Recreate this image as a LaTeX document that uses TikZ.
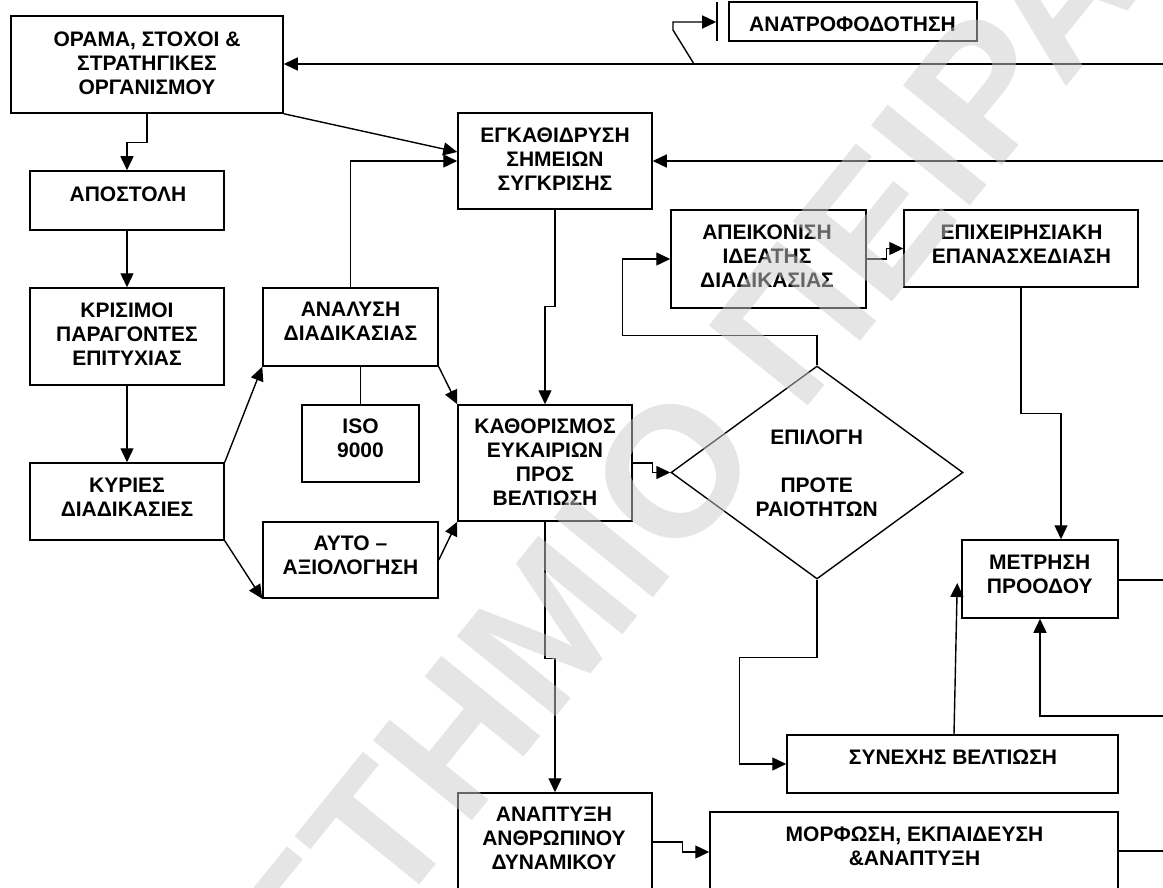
\documentclass[tikz,border=0pt]{standalone}
\usepackage{fontspec}
\setmainfont{Liberation Sans}
\usetikzlibrary{arrows.meta,shapes.geometric}
\begin{document}
\begin{tikzpicture}[x=1pt,y=-1pt,
  box/.style={draw,line width=1.5pt,inner sep=0pt,rectangle},
  txt/.style={align=center,inner sep=0pt,font=\bfseries\fontsize{21}{24}\selectfont},
  link/.style={line width=1.4pt},
  arr/.style={line width=1.4pt,-{Triangle[length=14pt,width=13pt]}},
  wm/.style={inner sep=0pt,rotate=51,text=black!20,text opacity=0.5,
    font=\bfseries\fontsize{185}{185}\selectfont}]
\useasboundingbox (0,0) rectangle (1163,888);
\clip (0,0) rectangle (1163,888);

% boxes
\node[box,minimum width=272pt,minimum height=97pt] (orama) at (147,64.5) {};
\node[box,minimum width=194pt,minimum height=59pt] (apostoli) at (127,200.5) {};
\node[box,minimum width=194pt,minimum height=97pt] (krisimoi) at (127,336.5) {};
\node[box,minimum width=194pt,minimum height=77pt] (kyries) at (127,501.5) {};
\node[box,minimum width=175pt,minimum height=78pt] (analysi) at (350.5,327) {};
\node[box,minimum width=117pt,minimum height=77pt] (iso) at (360.5,443.5) {};
\node[box,minimum width=175pt,minimum height=76pt] (afto) at (350.5,560) {};
\node[box,minimum width=174pt,minimum height=116pt] (kath) at (545,463) {};
\node[box,minimum width=194pt,minimum height=96pt] (egkath) at (555,161) {};
\node[box,minimum width=195pt,minimum height=98pt] (apeik) at (768.5,259) {};
\node[box,minimum width=234pt,minimum height=77pt] (epix) at (1021,248.5) {};
\node[draw,line width=1.4pt,diamond,inner sep=0pt,minimum width=292pt,minimum height=213pt] (dia) at (817,472.5) {};
\node[box,minimum width=156pt,minimum height=78pt] (metrisi) at (1040,579) {};
\node[box,minimum width=331pt,minimum height=58pt] (synexis) at (952.5,764) {};
\node[box,minimum width=408pt,minimum height=108pt] (morfosi) at (914,866) {};
\node[box,minimum width=194pt,minimum height=127pt] (anaptyxi) at (555,856.5) {};
\node[box,minimum width=248pt,minimum height=39pt] (anatrof) at (853,21.5) {};

% texts
\node[txt] (orama-t) at (147,63) {ΟΡΑΜΑ, ΣΤΟΧΟΙ \&\\ΣΤΡΑΤΗΓΙΚΕΣ\\ΟΡΓΑΝΙΣΜΟΥ};
\node[txt] (apostoli-t) at (128,194) {ΑΠΟΣΤΟΛΗ};
\node[txt] (krisimoi-t) at (127,334) {ΚΡΙΣΙΜΟΙ\\ΠΑΡΑΓΟΝΤΕΣ\\ΕΠΙΤΥΧΙΑΣ};
\node[txt] (kyries-t) at (127,497) {ΚΥΡΙΕΣ\\ΔΙΑΔΙΚΑΣΙΕΣ};
\node[txt] (analysi-t) at (350.5,321.7) {ΑΝΑΛΥΣΗ\\ΔΙΑΔΙΚΑΣΙΑΣ};
\node[txt] (iso-t) at (360.5,438.7) {ISO\\9000};
\node[txt] (afto-t) at (350.5,554.8) {ΑΥΤΟ –\\ΑΞΙΟΛΟΓΗΣΗ};
\node[txt] (kath-t) at (545,462.5) {ΚΑΘΟΡΙΣΜΟΣ\\ΕΥΚΑΙΡΙΩΝ\\ΠΡΟΣ\\ΒΕΛΤΙΩΣΗ};
\node[txt] (egkath-t) at (555,159) {ΕΓΚΑΘΙΔΡΥΣΗ\\ΣΗΜΕΙΩΝ\\ΣΥΓΚΡΙΣΗΣ};
\node[txt] (apeik-t) at (767,256) {ΑΠΕΙΚΟΝΙΣΗ\\ΙΔΕΑΤΗΣ\\ΔΙΑΔΙΚΑΣΙΑΣ};
\node[txt] (epix-t) at (1021.5,244) {ΕΠΙΧΕΙΡΗΣΙΑΚΗ\\ΕΠΑΝΑΣΧΕΔΙΑΣΗ};
\node[txt] (dia-t) at (816.7,473) {ΕΠΙΛΟΓΗ\\[24pt]ΠΡΟΤΕ\\ΡΑΙΟΤΗΤΩΝ};
\node[txt] (metrisi-t) at (1039.7,574.7) {ΜΕΤΡΗΣΗ\\ΠΡΟΟΔΟΥ};
\node[txt] (synexis-t) at (953,756.8) {ΣΥΝΕΧΗΣ ΒΕΛΤΙΩΣΗ};
\node[txt] (morfosi-t) at (914.5,846.5) {ΜΟΡΦΩΣΗ, ΕΚΠΑΙΔΕΥΣΗ\\\&ΑΝΑΠΤΥΞΗ};
\node[txt] (anaptyxi-t) at (554,838.7) {ΑΝΑΠΤΥΞΗ\\ΑΝΘΡΩΠΙΝΟΥ\\ΔΥΝΑΜΙΚΟΥ};
\node[txt] (anatrof-t) at (852.5,24.5) {ΑΝΑΤΡΟΦΟΔΟΤΗΣΗ};

% loose ends at the right margin and the feedback marker
\coordinate (r1) at (1163,64);
\coordinate (r2) at (1163,161);
\coordinate (r3) at (1163,580);
\coordinate (r4) at (1163,716);
\coordinate (r5) at (1163,851);
\coordinate (fb) at (694,64);
\coordinate (barTop) at (717,2);
\coordinate (barBot) at (717,41);
\coordinate (barMid) at (717,22);

% connectors
\draw[arr] (r1) -- (r1 -| orama.east);
\draw[arr,shorten >=0.8pt] (fb) -- (673,30) -- (673,22) -- (barMid);
\draw[link] (barTop) -- (barBot);
\draw[arr] (orama.south) -- ++(0,29) -| (apostoli.north);
\draw[arr] (apostoli.south) -- (krisimoi.north);
\draw[arr] (krisimoi.south) -- (kyries.north);
\draw[arr] (orama.south east) -- ([yshift=9pt]egkath.west);
\draw[arr] (analysi.north) |- (egkath.west);
\draw[arr] (r2) -- (egkath.east);
\draw[arr] (egkath.south) -- ++(0,97) -| (kath.north);
\draw[arr] (kyries.north east) -- (analysi.south west);
\draw[arr] (kyries.south east) -- (afto.south west);
\draw[link] (iso.north) -- (iso.north |- analysi.south);
\draw[arr] (analysi.south east) -- (kath.north west);
\draw[arr] (afto.east) -- (kath.south west);
\draw[arr] (kath.east) -- ++(20,0) |- (dia.west);
\draw[arr] (dia.north) -- ++(0,-30) -| ([xshift=-48pt]apeik.west) -- (apeik.west);
\draw[arr] (apeik.east) -- ++(20,0) |- (epix.west);
\draw[arr] (epix.south) -- ++(0,126) -| ([xshift=21pt]metrisi.north);
\draw[arr] (dia.south) -- ++(0,78) -| ([xshift=-47pt]synexis.west) -- (synexis.west);
\draw[arr] ([xshift=1.5pt]synexis.north) -- ([xshift=-4pt,yshift=-4pt]metrisi.west);
\draw[link] (metrisi.east |- r3) -- (r3);
\draw[arr] (r4) -| (metrisi.south);
\draw[arr] (kath.south) -- ++(0,137) -| (anaptyxi.north);
\draw[arr] ([yshift=14.5pt]anaptyxi.east) -- ++(30,0) |- ([yshift=14pt]morfosi.west);
\draw[link] (morfosi.east |- r5) -- (r5);

% faint diagonal watermark lettering
\node[wm,anchor=base east] (wm1) at (323,1005) {ΠΑΝΕΠΙ};
\node[wm,anchor=base west] (wm2) at (323,1005) {ΣΤΗΜΙΟ ΠΕΙΡΑΙΩΣ};
\end{tikzpicture}
\end{document}
